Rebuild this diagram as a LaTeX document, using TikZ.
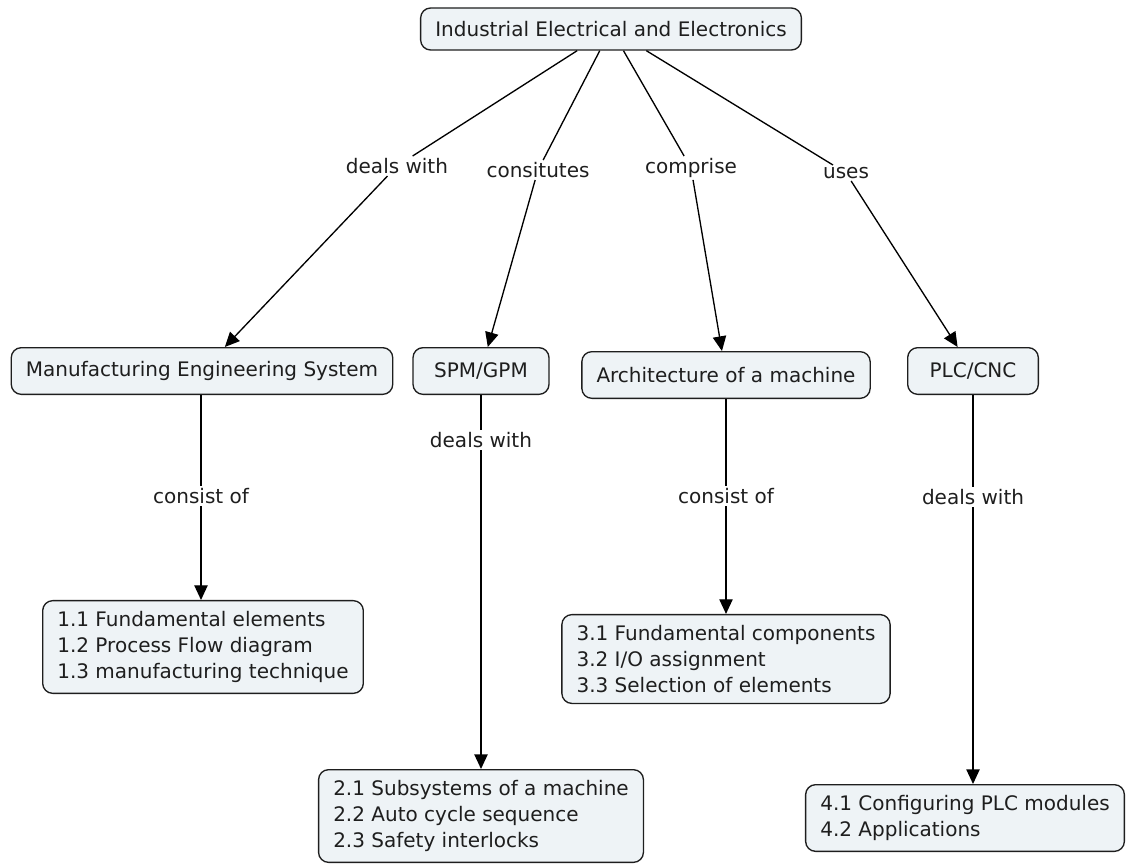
\documentclass[tikz,border=0pt]{standalone}
\usepackage{fontspec}
\setmainfont{DejaVu Sans}
\usetikzlibrary{arrows.meta}
\definecolor{boxfill}{RGB}{238,243,246}
\definecolor{ink}{RGB}{30,30,30}
\tikzset{
  concept/.style={draw=ink, fill=boxfill, rounded corners=7.5pt, line width=1pt,
    inner xsep=11pt, inner ysep=4pt, text=ink, minimum height=35pt},
  itembox/.style={concept, align=left, inner ysep=8pt},
  linkword/.style={inner sep=1.5pt, text=ink},
  link/.style={line width=1pt, draw=black},
}
\begin{document}
\begin{tikzpicture}[x=0.75pt, y=-0.75pt, >={Triangle[length=11pt,width=10pt]},
    font=\fontsize{15}{19.5}\selectfont]
    \useasboundingbox (0,0) rectangle (1130,867);
    % concepts
    \node[concept, minimum height=31.5pt] (root) at (611,29) {Industrial Electrical and Electronics};
    \node[concept] (mes) at (202,371) {Manufacturing Engineering System};
    \node[concept, minimum width=102pt] (spm) at (481,371) {SPM/GPM};
    \node[concept] (arch) at (726,375) {Architecture of a machine};
    \node[concept, minimum width=98pt] (plc) at (973,371) {PLC/CNC};
    \node[itembox] (box1) at (203,647)
        {1.1 Fundamental elements\\1.2 Process Flow diagram\\1.3 manufacturing technique};
    \node[itembox] (box2) at (481,816)
        {2.1 Subsystems of a machine\\2.2 Auto cycle sequence\\2.3 Safety interlocks};
    \node[itembox] (box3) at (726,659)
        {3.1 Fundamental components\\3.2 I/O assignment\\3.3 Selection of elements};
    \node[itembox] (box4) at (965,818)
        {4.1 Configuring PLC modules\\4.2 Applications};
    % linking words
    \node[linkword] (l1) at (397,166) {deals with};
    \node[linkword] (l2) at (538,170) {consitutes};
    \node[linkword] (l3) at (691,168) {comprise};
    \node[linkword] (l4) at (846,173) {uses};
    \node[linkword] (l5) at (201,496) {consist of};
    \node[linkword] (l6) at (481,440) {deals with};
    \node[linkword] (l7) at (726,496) {consist of};
    \node[linkword] (l8) at (973,497) {deals with};
    % links from the top concept
    \foreach \w/\c in {l1/mes, l2/spm, l3/arch, l4/plc} {
        \draw[link] (root) -- (\w);
        \draw[link, ->] (\w) -- (\c);
    }
    % links down to the lists
    \foreach \c/\w/\b in {mes/l5/box1, spm/l6/box2, arch/l7/box3, plc/l8/box4} {
        \draw[link] (\w |- \c.south) -- (\w);
        \draw[link, ->] (\w) -- (\w |- \b.north);
    }
\end{tikzpicture}
\end{document}
